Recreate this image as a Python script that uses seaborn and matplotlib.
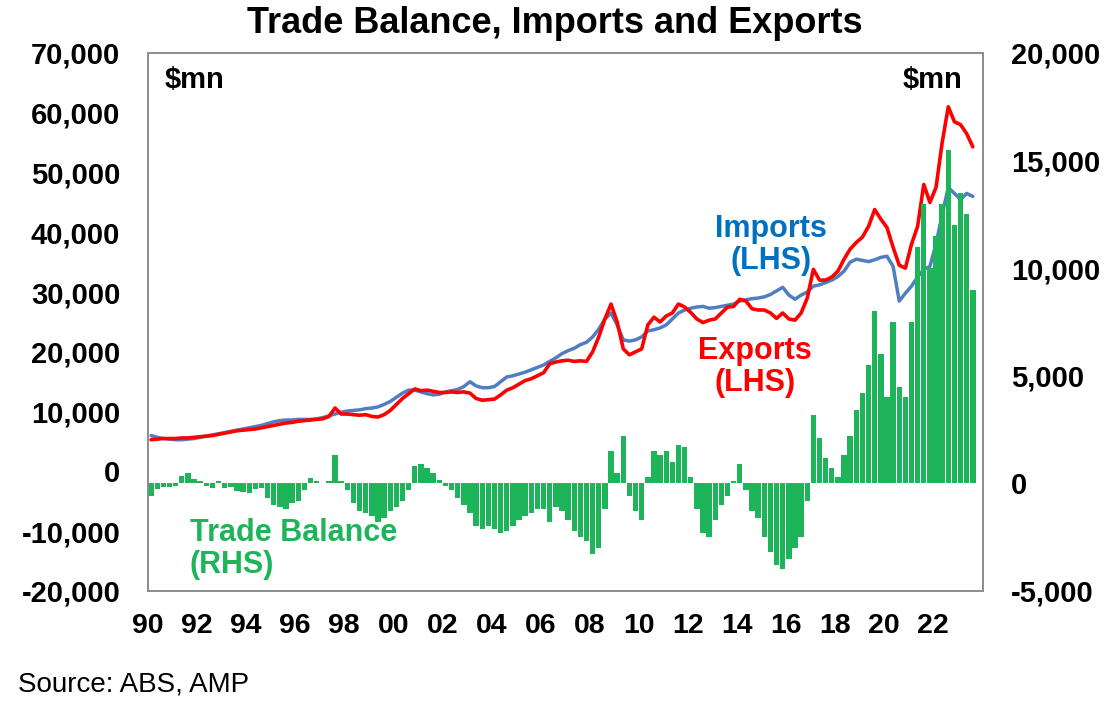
import numpy as np
import pandas as pd
import matplotlib
matplotlib.use("Agg")
import matplotlib.pyplot as plt
import seaborn as sns
from matplotlib.ticker import FuncFormatter

# quarterly readings, 1990 Q1 .. 2023 Q3 ($mn)
exports = [
    5300, 5400, 5500, 5500,  5500, 5600, 5600, 5700,  5800, 5900, 6000, 6200,
    6400, 6600, 6800, 6900,  7000, 7100, 7300, 7500,  7700, 7900, 8100, 8200,
    8400, 8500, 8600, 8700,  8800, 9200, 10600, 9600,  9600, 9500, 9400, 9500,
    9200, 9100, 9500, 10200,  11200, 12200, 13000, 13800,  13500, 13600, 13400, 13200,
    13200, 13300, 13200, 13300,  13100, 12200, 11900, 12000,  12100, 12800, 13600, 14000,
    14600, 15200, 15500, 16000,  16500, 18000, 18300, 18500,  18600, 18400, 18500, 18400,
    20000, 22500, 25500, 28000,  25000, 20500, 19500, 20000,  20500, 24500, 25800, 25000,
    26000, 26500, 28000, 27500,  26600, 25500, 24900, 25300,  25500, 26500, 27500, 27600,
    28800, 28500, 27200, 27000,  27000, 26500, 25600, 26500,  25500, 25300, 26500, 29000,
    33800, 32000, 32000, 32500,  33500, 35500, 37200, 38300,  39200, 41000, 43800, 42200,
    40800, 37500, 34500, 34000,  38000, 41000, 48000, 45000,  47500, 55000, 61000, 58500,
    58000, 56500, 54300,
]
imports = [
    6000, 5700, 5500, 5400,  5300, 5300, 5400, 5500,  5700, 5900, 6100, 6300,
    6500, 6700, 6900, 7100,  7300, 7500, 7700, 8000,  8300, 8500, 8600, 8600,
    8700, 8700, 8700, 8800,  9000, 9300, 9600, 9900,  10100, 10200, 10300, 10500,
    10600, 10800, 11200, 11700,  12400, 13100, 13600, 13600,  13300, 13000, 12800, 12900,
    13300, 13500, 13700, 14200,  15000, 14300, 14000, 14000,  14200, 15000, 15800, 16000,
    16300, 16600, 17000, 17400,  17800, 18400, 19000, 19700,  20200, 20600, 21200, 21600,
    22500, 23800, 25500, 26500,  24500, 22000, 21800, 22000,  22500, 23500, 23700, 24000,
    24500, 25500, 26500, 27000,  27300, 27500, 27600, 27300,  27400, 27600, 27800, 28000,
    28500, 28700, 28900, 29000,  29200, 29600, 30200, 30800,  29500, 28800, 29500, 30000,
    31000, 31200, 31600, 32000,  32600, 33500, 35000, 35500,  35300, 35100, 35400, 35800,
    36000, 34300, 28500, 29800,  31000, 32500, 33800, 34300,  38000, 43000, 47500, 46500,
    45500, 46500, 46000,
]
balance = [
    -600, -250, -150, -150,  -100, 350, 500, 200,  100, -100, -200, 100,
    -200, -150, -350, -400,  -450, -250, -200, -700,  -1000, -1100, -1200, -900,
    -800, -300, 250, 100,  0, 100, 1300, 100,  -300, -900, -1300, -1400,
    -1500, -1800, -1600, -1300,  -1100, -800, -300, 800,  900, 700, 500, 150,
    -100, -300, -700, -1000,  -1400, -2000, -2100, -2000,  -2100, -2300, -2200, -2000,
    -1700, -1500, -1400, -1200,  -1200, -1800, -1100, -1300,  -1700, -2200, -2500, -2700,
    -3300, -3000, -1200, 1500,  500, 2200, -600, -1300,  -1700, 300, 1500, 1300,
    1500, 1000, 1800, 1700,  300, -1200, -2300, -2500,  -1700, -1000, -600, 100,
    900, -300, -1300, -1600,  -2500, -3200, -3800, -4000,  -3500, -3000, -2500, -800,
    3200, 2100, 1200, 700,  300, 1300, 2200, 3400,  4200, 5500, 8000, 6000,
    4000, 7500, 4500, 4000,  7500, 11000, 13000, 10000,  11500, 13000, 15500, 12000,
    13500, 12500, 9000,
]
year_ticks = list(range(1990, 2023, 2))
year_labels = [f"{y % 100:02d}" for y in year_ticks]

RED = "#FF0000"
BLUE_LINE = "#4F7FC1"
BLUE_TXT = "#0070C0"
GREEN = "#1DB45A"

t = 1990 + 0.125 + 0.25 * np.arange(len(exports))
df = pd.DataFrame({"t": t, "exports": exports, "imports": imports, "balance": balance})

sns.set_theme(style="white")
plt.rcParams["font.family"] = ["Liberation Sans", "DejaVu Sans"]
plt.rcParams["font.weight"] = "bold"
plt.rcParams["text.color"] = "black"
plt.rcParams["xtick.color"] = "black"
plt.rcParams["ytick.color"] = "black"

fig = plt.figure(figsize=(11.13, 7.08), dpi=100)
ax = fig.add_axes([0.1330, 0.1653, 0.7502, 0.7599])
ax2 = ax.twinx()

sns.lineplot(data=df, x="t", y="imports", color=BLUE_LINE, linewidth=2.5, ax=ax)
sns.lineplot(data=df, x="t", y="exports", color=RED, linewidth=2.6, ax=ax)
ax2.bar(df["t"], df["balance"], width=0.22, color=GREEN, linewidth=0)

ax.set_xlim(1990, 2024.04)
ax.set_ylim(-20000, 70000)
ax2.set_ylim(-5000, 20000)
ax.set_yticks(range(-20000, 70001, 10000))
ax2.set_yticks(range(-5000, 20001, 5000))
fmt = FuncFormatter(lambda v, p: f"{int(v):,}")
ax.yaxis.set_major_formatter(fmt)
ax2.yaxis.set_major_formatter(fmt)
ax.set_xticks(year_ticks)
ax.set_xticklabels(year_labels)
ax.set_xlabel("")
ax.set_ylabel("")
ax2.set_ylabel("")

for a in (ax, ax2):
    for s in ("left", "right", "bottom", "top"):
        a.spines[s].set_color("#8C8C8C")
        a.spines[s].set_linewidth(1.2)
    a.tick_params(axis="y", length=0, labelsize=21, pad=20)
ax.tick_params(axis="x", direction="out", length=6, width=1.2, color="#8C8C8C",
               labelsize=20.5, pad=10)

ax.text(0.0204, 0.935, "$mn", transform=ax.transAxes, ha="left", va="baseline", fontsize=21)
ax.text(0.975, 0.935, "$mn", transform=ax.transAxes, ha="right", va="baseline", fontsize=21)
ax.text(2015.4, 37900, "Imports\n(LHS)", color=BLUE_TXT, ha="center", va="center",
        fontsize=22, linespacing=1.1)
ax.text(2014.75, 17500, "Exports\n(LHS)", color=RED, ha="center", va="center",
        fontsize=22, linespacing=1.1)
ax.text(1991.71, -12950, "Trade Balance\n(RHS)", color=GREEN, ha="left", va="center",
        fontsize=22, linespacing=1.1)

fig.text(0.4987, 0.9534, "Trade Balance, Imports and Exports", ha="center", va="baseline",
         fontsize=26)
fig.text(0.016, 0.024, "Source: ABS, AMP", ha="left", va="baseline", fontsize=20,
         fontweight="normal")

fig.savefig("out.png", dpi=100)
